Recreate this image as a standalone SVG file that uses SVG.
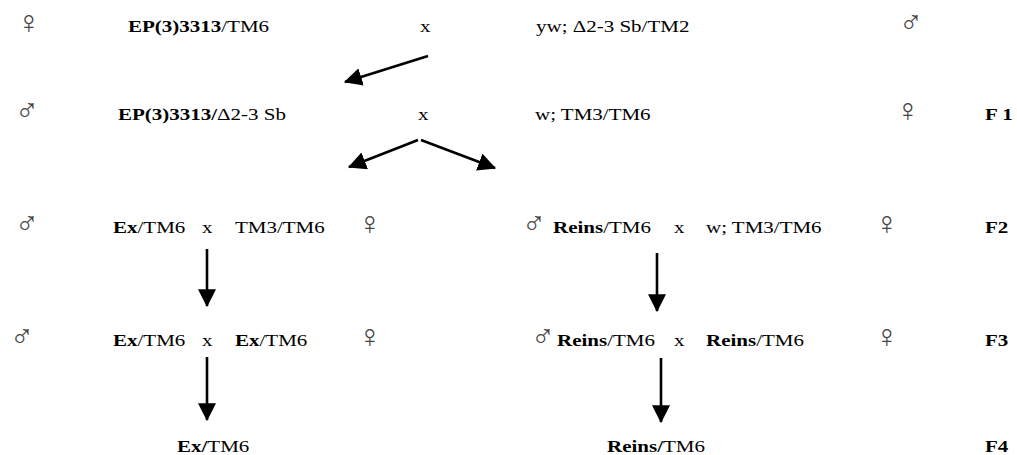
<svg xmlns="http://www.w3.org/2000/svg" width="1017" height="455" viewBox="0 0 1017 455">
<style>
.t{font-family:"Liberation Serif","Times New Roman",serif;font-size:21px;fill:#000}
.b{font-weight:bold}
.s{font-family:"Liberation Sans",Arial,"DejaVu Sans",sans-serif;font-size:32px;fill:#444}
.c{stroke:#000;stroke-width:2.6;fill:none;marker-end:url(#ah)}
</style>
<defs>
<marker id="ah" markerUnits="userSpaceOnUse" markerWidth="18" markerHeight="18" viewBox="0 0 16 16" refX="15" refY="8" orient="auto">
<path d="M0,0 L16,8 L0,16 Z" fill="#000"/>
</marker>
</defs>
<rect width="1017" height="455" fill="#fff"/>
<g id="connectors">
<line class="c" x1="428" y1="56" x2="345" y2="82"/>
<line class="c" x1="418" y1="140" x2="349" y2="167"/>
<line class="c" x1="421" y1="140" x2="495" y2="168"/>
<line class="c" x1="207" y1="249" x2="207" y2="306"/>
<line class="c" x1="657" y1="253" x2="657" y2="311"/>
<line class="c" x1="207" y1="357" x2="207" y2="420"/>
<line class="c" x1="661" y1="358" x2="661" y2="422"/>
</g>
<!-- Row 1 -->
<g id="r1-female"><text class="s" x="17" y="33">♀</text></g>
<g id="r1-ep" transform="translate(128,32) scale(1,0.8)"><text class="t"><tspan class="b">EP(3)3313</tspan>/TM6</text></g>
<g id="r1-x" transform="translate(420,32) scale(1,0.8)"><text class="t">x</text></g>
<g id="r1-yw" transform="translate(536,32) scale(1,0.8)"><text class="t">yw; Δ2-3 Sb/TM2</text></g>
<g id="r1-male"><text class="s" x="899" y="33">♂</text></g>
<!-- Row 2 -->
<g id="r2-male"><text class="s" x="15" y="121">♂</text></g>
<g id="r2-ep" transform="translate(118,120) scale(1,0.8)"><text class="t"><tspan class="b">EP(3)3313/</tspan>Δ2-3 Sb</text></g>
<g id="r2-x" transform="translate(418,120) scale(1,0.8)"><text class="t">x</text></g>
<g id="r2-w" transform="translate(535,120) scale(1,0.8)"><text class="t">w; TM3/TM6</text></g>
<g id="r2-female"><text class="s" x="896" y="121">♀</text></g>
<g id="r2-f1" transform="translate(985,120) scale(1,0.8)"><text class="t b">F 1</text></g>
<!-- Row 3 left -->
<g id="r3l-male"><text class="s" x="15" y="234">♂</text></g>
<g id="r3l-ex" transform="translate(113,233) scale(1,0.8)"><text class="t"><tspan class="b">Ex</tspan>/TM6</text></g>
<g id="r3l-x" transform="translate(202,233) scale(1,0.8)"><text class="t">x</text></g>
<g id="r3l-tm" transform="translate(235,233) scale(1,0.8)"><text class="t">TM3/TM6</text></g>
<g id="r3l-female"><text class="s" x="358" y="234">♀</text></g>
<!-- Row 3 right -->
<g id="r3r-male"><text class="s" x="522" y="234">♂</text></g>
<g id="r3r-reins" transform="translate(553,233) scale(1,0.8)"><text class="t"><tspan class="b">Reins</tspan>/TM6</text></g>
<g id="r3r-x" transform="translate(674,233) scale(1,0.8)"><text class="t">x</text></g>
<g id="r3r-w" transform="translate(706,233) scale(1,0.8)"><text class="t">w; TM3/TM6</text></g>
<g id="r3r-female"><text class="s" x="875" y="234">♀</text></g>
<g id="r3-f2" transform="translate(985,233) scale(1,0.8)"><text class="t b">F2</text></g>
<!-- Row 4 left -->
<g id="r4l-male"><text class="s" x="10" y="347">♂</text></g>
<g id="r4l-ex" transform="translate(113,346) scale(1,0.8)"><text class="t"><tspan class="b">Ex</tspan>/TM6</text></g>
<g id="r4l-x" transform="translate(202,346) scale(1,0.8)"><text class="t">x</text></g>
<g id="r4l-ex2" transform="translate(235,346) scale(1,0.8)"><text class="t"><tspan class="b">Ex</tspan>/TM6</text></g>
<g id="r4l-female"><text class="s" x="358" y="347">♀</text></g>
<!-- Row 4 right -->
<g id="r4r-male"><text class="s" x="531" y="347">♂</text></g>
<g id="r4r-reins" transform="translate(557,346) scale(1,0.8)"><text class="t"><tspan class="b">Reins</tspan>/TM6</text></g>
<g id="r4r-x" transform="translate(674,346) scale(1,0.8)"><text class="t">x</text></g>
<g id="r4r-reins2" transform="translate(706,346) scale(1,0.8)"><text class="t"><tspan class="b">Reins</tspan>/TM6</text></g>
<g id="r4r-female"><text class="s" x="875" y="347">♀</text></g>
<g id="r4-f3" transform="translate(985,346) scale(1,0.8)"><text class="t b">F3</text></g>
<!-- Row 5 -->
<g id="r5-ex" transform="translate(177,452) scale(1,0.8)"><text class="t"><tspan class="b">Ex/</tspan>TM6</text></g>
<g id="r5-reins" transform="translate(607,452) scale(1,0.8)"><text class="t"><tspan class="b">Reins/</tspan>TM6</text></g>
<g id="r5-f4" transform="translate(985,452) scale(1,0.8)"><text class="t b">F4</text></g>
</svg>
